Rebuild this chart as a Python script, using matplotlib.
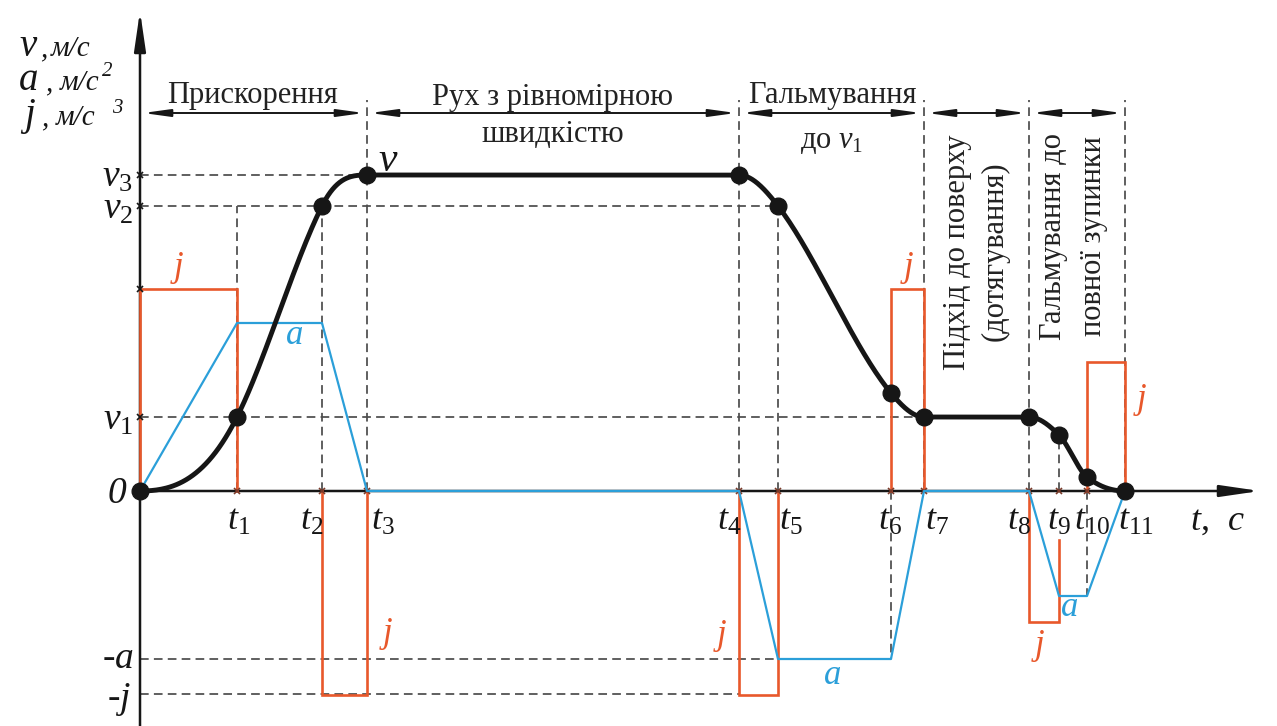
import numpy as np
import matplotlib.pyplot as plt

plt.rcParams['font.family'] = 'Liberation Serif'
plt.rcParams['mathtext.fontset'] = 'custom'
plt.rcParams['mathtext.rm'] = 'Liberation Serif'
plt.rcParams['mathtext.it'] = 'Liberation Serif:italic'

# time marks t0 .. t11
t_marks = [0, 9.7, 18.2, 22.7, 59.9, 63.8, 75.1, 78.4, 88.9, 91.9, 94.7, 98.5]
# speed at each mark and its slope there
v_knots = [0, 7.4, 28.5, 31.6, 31.6, 28.5, 9.8, 7.4, 7.4, 5.6, 1.4, 0]
v_slope = [0, 2.0, 2.0, 0, 0, -1.3, -1.2, 0, 0, -1.0, -0.8, 0]
# acceleration (piecewise linear between marks)
a_knots = [0, 16.8, 16.8, 0, 0, -16.8, -16.8, 0, 0, -10.5, -10.5, 0]
# jerk pulses: start mark, level, level where the closing edge stops
j_from = [0, 2, 4, 6, 8, 10]
j_level = [20.2, -20.4, -20.4, 20.2, -13.1, 12.9]
j_close = [0, 0, 0, 0, -4.9, 0]

v1, v2, v3 = 7.4, 28.5, 31.6
a_max, j_max = 16.8, 20.3

phase_bounds = [0, 3, 4, 7, 8, 11]

RED = '#e8582b'
BLUE = '#2b9fd9'
INK = '#161616'
GREY = '#4c4c4c'
DASH = (0, (5, 3))


def hermite(x, y, m, n=60):
    xs, ys = [], []
    for k in range(len(x) - 1):
        h = x[k + 1] - x[k]
        s = np.linspace(0, 1, n)
        h00 = 2 * s**3 - 3 * s**2 + 1
        h10 = s**3 - 2 * s**2 + s
        h01 = -2 * s**3 + 3 * s**2
        h11 = s**3 - s**2
        xs.append(x[k] + s * h)
        ys.append(h00 * y[k] + h10 * h * m[k] + h01 * y[k + 1] + h11 * h * m[k + 1])
    return np.concatenate(xs), np.concatenate(ys)


fig = plt.figure(figsize=(12.77, 7.26), dpi=100)
ax = fig.add_axes([0, 0, 1, 1])
ax.set_xlim(-14.0, 113.7)
ax.set_ylim(-23.5, 49.1)
ax.axis('off')

T = t_marks
top = 39.1

# guide lines
dash_kw = dict(color=GREY, lw=1.25, linestyles=[DASH], zorder=1)
ax.hlines([v3, v2, v1, -a_max, -j_max], 0, [T[3], T[5], T[7], T[5], T[4]], **dash_kw)
ax.vlines([T[3], T[4], T[7], T[8], T[11]], 0, top, **dash_kw)
ax.vlines([T[1], T[2], T[5]], 0, v2, **dash_kw)
ax.vlines(T[9], 0, v_knots[9], **dash_kw)
ax.vlines(T[6], 0, -a_max, **dash_kw)
ax.vlines(T[10], 0, a_knots[10], **dash_kw)

# axes with arrows
ax.annotate('', xy=(0, 48.0), xytext=(0, -23.5),
            arrowprops=dict(arrowstyle='-|>,head_length=2.4,head_width=0.35',
                            lw=1.8, color=INK, shrinkA=0, shrinkB=0), zorder=2)
ax.annotate('', xy=(112.0, 0), xytext=(0, 0),
            arrowprops=dict(arrowstyle='-|>,head_length=2.4,head_width=0.35',
                            lw=1.8, color=INK, shrinkA=0, shrinkB=0), zorder=2)

# phase brackets
yb = 37.8
for i in range(len(phase_bounds) - 1):
    x0 = T[phase_bounds[i]] + 0.3
    x1 = T[phase_bounds[i + 1]] - 0.3
    ax.annotate('', xy=(x1, yb), xytext=(x0, yb),
                arrowprops=dict(arrowstyle='<|-|>,head_length=1.6,head_width=0.22',
                                lw=1.4, color=INK, shrinkA=0, shrinkB=0))

# jerk
for k, L, c in zip(j_from, j_level, j_close):
    ax.plot([T[k], T[k], T[k + 1], T[k + 1]], [0, L, L, c],
            color=RED, lw=1.9, zorder=3, solid_joinstyle='miter')

# acceleration
ax.plot(T, a_knots, color=BLUE, lw=1.6, zorder=4)

# speed
tx, vy = hermite(T, v_knots, v_slope)
ax.plot(tx, vy, color=INK, lw=3.5, zorder=5, solid_capstyle='round')
ax.plot(T, v_knots, 'o', color=INK, ms=12, zorder=6)

# small tick crosses
ax.plot(T[1:], [0] * 11, 'x', color='#7a3a2a', ms=5, mew=1.2, zorder=3)
ax.plot([0] * 4, [v1, v2, v3, 20.2], 'x', color=INK, ms=5, mew=1.2, zorder=3)

# axis labels
lab = dict(style='italic', color=INK, va='baseline')
ax.text(-12.1, 43.5, 'v', fontsize=28, **lab)
ax.text(-10.0, 43.5, ',', fontsize=21, **lab)
ax.text(-8.9, 43.5, 'м/с', fontsize=21, **lab)
ax.text(-12.1, 40.1, 'a', fontsize=28, **lab)
ax.text(-9.5, 40.1, ',', fontsize=21, **lab)
ax.text(-8.0, 40.1, 'м/с', fontsize=21, **lab)
ax.text(-3.8, 41.5, '2', fontsize=15, **lab)
ax.text(-11.6, 36.6, 'j', fontsize=28, **lab)
ax.text(-9.9, 36.6, ',', fontsize=21, **lab)
ax.text(-8.4, 36.6, 'м/с', fontsize=21, **lab)
ax.text(-2.8, 37.8, '3', fontsize=15, **lab)

ylab = dict(fontsize=27, ha='right', va='center', color=INK)
ax.text(-0.7, v3 - 0.2, r'$v_{\mathit{3}}$', **ylab)
ax.text(-0.7, v2 - 0.3, r'$v_{\mathit{2}}$', **ylab)
ax.text(-0.7, v1 - 0.3, r'$v_{\mathit{1}}$', **ylab)
ax.text(-1.4, -0.3, '0', style='italic', **ylab)
ax.text(-0.6, -a_max, '-$a$', **ylab)
ax.text(-0.9, -j_max - 0.6, '-$j$', **ylab)

# label shift of each t_i relative to its mark
t_shift = [0.2, -1.0, 1.6, -1.0, 1.3, -0.1, 1.3, -1.0, 0.0, 0.5, 1.1]
for i in range(1, 12):
    ax.text(T[i] + t_shift[i - 1], -3.0, r'$t_{\mathit{%d}}$' % i, fontsize=26,
            ha='center', va='center', color=INK)
ax.text(107.7, -3.0, r'$t$,  $c$', fontsize=26, ha='center', va='center', color=INK)

# phase captions
cap = dict(fontsize=22, ha='center', va='center', color='#222222')
ax.text(11.3, 39.6, 'Прискорення', **cap)
ax.text(41.3, 39.4, 'Рух з рівномірною', **cap)
ax.text(41.3, 35.6, 'швидкістю', **cap)
ax.text(69.2, 39.6, 'Гальмування', **cap)
ax.text(69.2, 35.0, r'до $v_{\mathit{1}}$', **cap)
ax.text(81.8, 23.9, 'Підхід до поверху', rotation=90, **cap)
ax.text(85.5, 24.0, '(дотягування)', rotation=90, **cap)
ax.text(91.3, 25.4, 'Гальмування до', rotation=90, **cap)
ax.text(95.3, 25.5, 'повної зупинки', rotation=90, **cap)

# curve names
ax.text(23.8, 33.0, 'v', fontsize=30, style='italic', color=INK, va='center')
nm = dict(fontsize=25, style='italic', ha='center', va='center')
for x, y in [(3.9, 22.4), (24.8, -14.2), (58.2, -14.4), (76.9, 22.4), (100.2, 9.1), (90.0, -15.4)]:
    ax.text(x, y, 'j', color=RED, **nm)
for x, y in [(15.5, 15.5), (69.3, -18.5), (93.0, -11.7)]:
    ax.text(x, y, 'a', color=BLUE, **nm)

fig.savefig('out.png', dpi=100, facecolor='white')
